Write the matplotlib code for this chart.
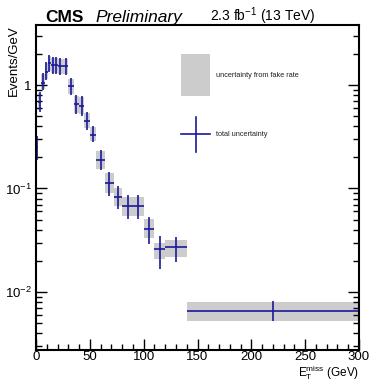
import numpy as np
import matplotlib
matplotlib.use("Agg")
import matplotlib.pyplot as plt
from matplotlib.patches import Rectangle
from matplotlib.lines import Line2D
from matplotlib.ticker import FixedLocator, FixedFormatter, MultipleLocator

# --- Data ---
BIN_EDGES = [0, 2, 5, 8, 11, 14, 17, 20, 25, 30, 35, 40, 45, 50, 56, 64, 72,
             80, 90, 100, 110, 120, 140, 300]
EVENTS = [0.25, 0.69, 1.05, 1.34, 1.63, 1.56, 1.56, 1.53, 1.53, 0.98, 0.65,
          0.63, 0.45, 0.33, 0.19, 0.114, 0.083, 0.068, 0.068, 0.041, 0.026,
          0.027, 0.0066]
TOTAL_HI = [0.32, 0.86, 1.30, 1.67, 1.95, 1.88, 1.88, 1.83, 1.83, 1.17, 0.80,
            0.78, 0.55, 0.40, 0.235, 0.145, 0.106, 0.086, 0.086, 0.053, 0.035,
            0.034, 0.0082]
TOTAL_LO = [0.19, 0.55, 0.90, 1.12, 1.34, 1.28, 1.28, 1.25, 1.25, 0.80, 0.52,
            0.50, 0.37, 0.28, 0.15, 0.085, 0.064, 0.051, 0.051, 0.029, 0.0168,
            0.0195, 0.0052]
FAKE_HI = [0.31, 0.84, 1.27, 1.62, 1.90, 1.83, 1.83, 1.80, 1.80, 1.15, 0.78,
           0.76, 0.54, 0.39, 0.23, 0.141, 0.10, 0.083, 0.083, 0.051, 0.030,
           0.032, 0.0080]
FAKE_LO = [0.20, 0.57, 0.92, 1.15, 1.38, 1.32, 1.32, 1.28, 1.28, 0.82, 0.54,
           0.52, 0.38, 0.285, 0.155, 0.09, 0.067, 0.054, 0.054, 0.033, 0.021,
           0.022, 0.0053]

BLUE = "#1a1a9c"
GREY = "#cccccc"

plt.rcParams.update({
    "font.family": ["Liberation Sans", "DejaVu Sans"],
    "mathtext.fontset": "custom",
    "mathtext.rm": "Liberation Sans",
    "mathtext.it": "Liberation Sans:italic",
    "mathtext.bf": "Liberation Sans:bold",
})


def main():
    edges = np.array(BIN_EDGES, dtype=float)
    centers = 0.5 * (edges[1:] + edges[:-1])
    widths = edges[1:] - edges[:-1]
    vals = np.array(EVENTS)
    tot_hi, tot_lo = np.array(TOTAL_HI), np.array(TOTAL_LO)
    fk_hi, fk_lo = np.array(FAKE_HI), np.array(FAKE_LO)

    fig = plt.figure(figsize=(3.7, 3.8), dpi=100)
    ax = fig.add_axes([36 / 370, 1 - 350 / 380, 323 / 370, 325 / 380])

    # fake-rate uncertainty boxes
    ax.bar(centers, fk_hi - fk_lo, bottom=fk_lo, width=widths,
           color=GREY, edgecolor="none", zorder=1)
    # total uncertainty crosses
    ax.errorbar(centers, vals, xerr=widths / 2,
                yerr=[vals - tot_lo, tot_hi - vals],
                fmt="none", ecolor=BLUE, elinewidth=1.2, capsize=0, zorder=2)

    ax.set_yscale("log")
    ax.set_xlim(0, 300)
    ax.set_ylim(0.00275, 3.8)

    ax.xaxis.set_major_locator(MultipleLocator(50))
    ax.xaxis.set_minor_locator(MultipleLocator(10))
    ax.yaxis.set_major_locator(FixedLocator([0.01, 0.1, 1]))
    ax.yaxis.set_major_formatter(FixedFormatter([r"10$^{-2}$", r"10$^{-1}$", "1"]))
    minors = [m * d for d in (0.001, 0.01, 0.1, 1) for m in range(2, 10)]
    ax.yaxis.set_minor_locator(FixedLocator(minors))
    ax.yaxis.set_minor_formatter(FixedFormatter([""] * len(minors)))

    ax.tick_params(which="both", direction="in", right=True, top=False,
                   width=1.0, labelsize=9.5)
    ax.tick_params(axis="x", pad=1)
    ax.tick_params(axis="y", pad=3)
    ax.tick_params(which="major", length=8)
    ax.tick_params(which="minor", length=4)
    for sp in ax.spines.values():
        sp.set_linewidth(1.5)

    # axis titles placed like the ROOT original
    fig.text(14 / 370, 1 - 25 / 380, "Events/GeV", fontsize=9.5,
             rotation=90, ha="center", va="top")
    fig.text(359 / 370, 1 - 376 / 380, r"E$_{\mathrm{T}}^{\mathrm{miss}}$ (GeV)",
             fontsize=8.5, ha="right", va="baseline")

    # legend drawn in axes coordinates
    ax.add_patch(Rectangle((0.449, 0.782), 0.09, 0.129, transform=ax.transAxes,
                           facecolor=GREY, edgecolor="none", zorder=3))
    ax.add_line(Line2D([0.449, 0.539], [0.664, 0.664], transform=ax.transAxes,
                       color=BLUE, lw=1.2, zorder=3))
    ax.add_line(Line2D([0.494, 0.494], [0.609, 0.717], transform=ax.transAxes,
                       color=BLUE, lw=1.2, zorder=3))
    ax.text(0.556, 0.846, "uncertainty from fake rate", transform=ax.transAxes,
            fontsize=5.3, color="#222222", va="center", ha="left")
    ax.text(0.556, 0.664, "total uncertainty", transform=ax.transAxes,
            fontsize=5.3, color="#222222", va="center", ha="left")

    # header
    fig.text(45 / 370, 1 - 22 / 380, "CMS", fontsize=12.5, fontweight="bold",
             va="baseline", ha="left")
    fig.text(95 / 370, 1 - 22 / 380, "Preliminary", fontsize=12.5,
             fontstyle="italic", va="baseline", ha="left")
    fig.text(315 / 370, 1 - 21 / 380, r"2.3 fb$^{-1}$ (13 TeV)", fontsize=10,
             va="baseline", ha="right")

    fig.savefig("out.png", dpi=100)
    plt.close(fig)


if __name__ == "__main__":
    main()
